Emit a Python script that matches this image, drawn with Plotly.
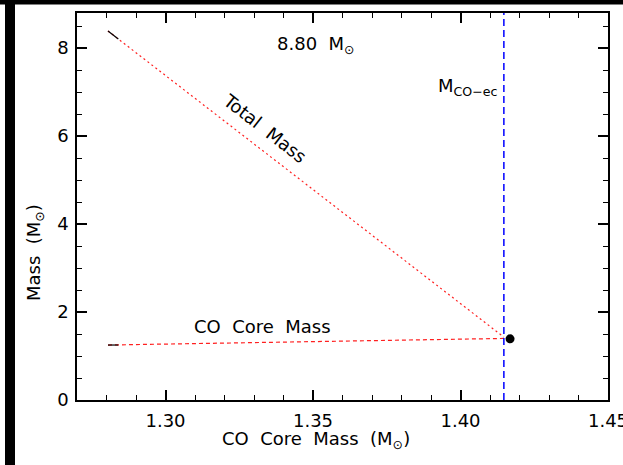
import plotly.graph_objects as go

# Evolution track of an 8.80 Msun model: total stellar mass and CO core mass
# plotted against CO core mass.
co_core_x = [1.2805, 1.4147]
total_mass = [8.39, 1.43]
core_mass = [1.25, 1.40]

# short black segment at the start of each track
start_x = [1.2805, 1.2840]
start_total = [8.39, 8.21]
start_core = [1.25, 1.25]

final_core_x = [1.4168]
final_core_y = [1.39]

m_co_ec = 1.4147

x_ticks = [1.30, 1.35, 1.40, 1.45]
x_tick_text = ["1.30", "1.35", "1.40", "1.45"]
y_ticks = [0, 2, 4, 6, 8]

FONT = "DejaVu Sans"
SUN = "\u2299"

fig = go.Figure()

fig.add_trace(go.Scatter(x=co_core_x, y=total_mass, mode="lines",
                         line=dict(color="#ff2020", width=1.2, dash="2px,3px"),
                         showlegend=False))
fig.add_trace(go.Scatter(x=co_core_x, y=core_mass, mode="lines",
                         line=dict(color="#ff2020", width=1.2, dash="4px,3px"),
                         showlegend=False))
fig.add_trace(go.Scatter(x=start_x, y=start_total, mode="lines",
                         line=dict(color="black", width=1.2), showlegend=False))
fig.add_trace(go.Scatter(x=start_x, y=start_core, mode="lines",
                         line=dict(color="black", width=1.2), showlegend=False))
fig.add_trace(go.Scatter(x=[m_co_ec, m_co_ec], y=[0, 8.8], mode="lines",
                         line=dict(color="#0000ff", width=1.5, dash="7px,4px"),
                         showlegend=False))
fig.add_trace(go.Scatter(x=final_core_x, y=final_core_y, mode="markers",
                         marker=dict(color="black", size=9), showlegend=False))

fig.update_xaxes(range=[1.27, 1.45], tickvals=x_ticks, ticktext=x_tick_text,
                 ticks="inside", ticklen=10, tickwidth=1.5, tickcolor="black",
                 showline=True, linecolor="black", linewidth=1.5, mirror="allticks",
                 showgrid=False, zeroline=False, ticklabelstandoff=4,
                 ticklabeloverflow="allow", automargin=False,
                 minor=dict(dtick=0.01, tick0=1.27, ticks="inside", ticklen=5,
                            tickwidth=1.2, tickcolor="black", showgrid=False),
                 tickfont=dict(family=FONT, size=18, color="black"))
fig.update_yaxes(range=[0, 8.8], tickvals=y_ticks,
                 ticks="inside", ticklen=10, tickwidth=1.5, tickcolor="black",
                 showline=True, linecolor="black", linewidth=1.5, mirror="allticks",
                 showgrid=False, zeroline=False, ticklabelstandoff=3,
                 ticklabeloverflow="allow", automargin=False,
                 minor=dict(dtick=0.5, tick0=0, ticks="inside", ticklen=5,
                            tickwidth=1.2, tickcolor="black", showgrid=False),
                 tickfont=dict(family=FONT, size=18, color="black"))

txt = dict(family=FONT, size=18, color="black")
ctr = dict(xanchor="center", yanchor="middle", showarrow=False, font=txt)
annotations = [
    dict(x=1.351, y=8.07, xref="x", yref="y", text=f"8.80  M<sub>{SUN}</sub>", **ctr),
    dict(x=1.3338, y=6.18, xref="x", yref="y", text="Total  Mass", textangle=37.8, **ctr),
    dict(x=1.333, y=1.68, xref="x", yref="y", text="CO  Core  Mass", **ctr),
    dict(x=1.4025, y=7.11, xref="x", yref="y", text="M<sub>CO\u2212ec</sub>", **ctr),
    dict(x=(316 - 77) / 531, y=(400 - 440) / 387, xref="paper", yref="paper",
         text=f"CO  Core  Mass  (M<sub>{SUN}</sub>)", **ctr),
    dict(x=(35 - 77) / 531, y=(400 - 253) / 387, xref="paper", yref="paper",
         text=f"Mass  (M<sub>{SUN}</sub>)", textangle=-90, **ctr),
    dict(x=(2 - 77) / 531, y=(400 - 424) / 387, xref="paper", yref="paper",
         xanchor="right", yanchor="middle", text="0", showarrow=False,
         font=dict(family=FONT, size=18, color="black")),
]

shapes = [
    # dark frame strips along the top and left edge
    dict(type="rect", xref="paper", yref="paper", x0=(0 - 77) / 531, x1=(623 - 77) / 531,
         y0=(400 - 4.5) / 387, y1=(400 + 2) / 387 + 1, fillcolor="black", line_width=0,
         layer="above"),
    dict(type="rect", xref="paper", yref="paper", x0=(5 - 77) / 531, x1=(15 - 77) / 531,
         y0=(400 - 470) / 387, y1=(400 + 2) / 387, fillcolor="black", line_width=0,
         layer="above"),
]

fig.update_layout(
    width=623, height=465,
    margin=dict(l=77, r=15, t=13, b=65),
    paper_bgcolor="white", plot_bgcolor="white",
    annotations=annotations, shapes=shapes,
    font=dict(family=FONT, color="black"),
)

fig.write_html("out.html")
